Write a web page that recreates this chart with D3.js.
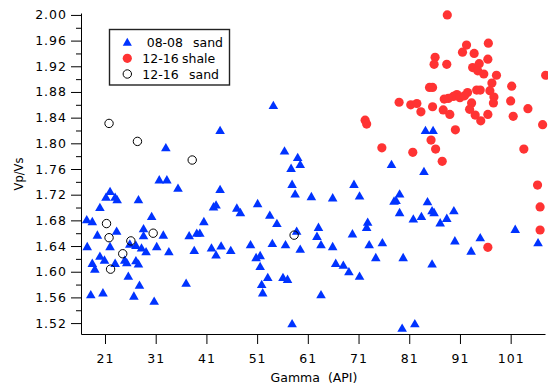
<!DOCTYPE html>
<html>
<head>
<meta charset="utf-8">
<script src="https://cdn.jsdelivr.net/npm/d3@7"></script>
<style>
  body { margin: 0; background: #fff; }
  svg { display: block; font-family: "DejaVu Sans", sans-serif; }
</style>
</head>
<body>
<svg id="chart" width="548" height="387"></svg>
<script>
// [Gamma (API), Vp/Vs] pairs for each sample group
const sand0808 = [
  [17.4,1.682],[18.5,1.679],[19.5,1.658],[17.5,1.640],[20.0,1.701],[21.2,1.717],[22.0,1.726],[23.0,1.717],[23.4,1.713],[27.6,1.713],
  [23.3,1.664],[22.0,1.640],[20.0,1.625],[20.9,1.619],[18.5,1.614],[19.0,1.605],[23.0,1.614],[24.9,1.619],[25.3,1.615],[27.1,1.618],
  [27.6,1.613],[25.6,1.594],[27.8,1.580],[26.7,1.563],[18.2,1.565],[20.6,1.568],[30.7,1.555],[25.9,1.644],[27.1,1.642],[28.2,1.638],
  [29.1,1.632],[28.6,1.668],[28.6,1.657],[30.2,1.687],[31.2,1.640],[32.5,1.658],[33.6,1.632],[33.0,1.794],[31.7,1.744],[33.2,1.744],
  [35.4,1.731],[37.0,1.583],[37.6,1.657],[38.6,1.634],[39.1,1.661],[39.7,1.661],[40.5,1.679],[42.0,1.638],[42.9,1.627],[43.9,1.641],
  [45.8,1.634],[42.4,1.702],[42.9,1.705],[43.7,1.729],[43.7,1.821],[47.0,1.700],[54.2,1.860],[56.4,1.789],[59.0,1.779],[59.5,1.768],
  [57.7,1.762],[57.9,1.737],[58.5,1.722],[61.7,1.718],[65.9,1.716],[70.1,1.737],[71.2,1.719],[77.5,1.768],[79.1,1.722],[78.0,1.711],
  [79.1,1.693],[47.7,1.693],[51.1,1.707],[53.5,1.689],[54.9,1.676],[58.8,1.664],[63.1,1.670],[62.8,1.656],[63.6,1.643],[65.9,1.640],
  [69.8,1.660],[72.8,1.678],[72.6,1.670],[73.1,1.643],[75.7,1.646],[74.4,1.623],[79.8,1.623],[49.7,1.643],[54.0,1.645],[56.6,1.643],
  [59.5,1.636],[50.8,1.623],[51.6,1.626],[51.6,1.609],[53.1,1.592],[51.9,1.581],[52.1,1.568],[56.1,1.592],[57.0,1.589],[66.5,1.614],
  [68.0,1.611],[69.1,1.601],[71.2,1.594],[63.6,1.565],[57.9,1.520],[79.6,1.513],[82.1,1.520],[78.4,1.712],[84.6,1.710],[85.5,1.696],
  [85.9,1.693],[89.8,1.696],[88.4,1.684],[87.1,1.677],[83.4,1.687],[81.8,1.683],[85.5,1.613],[90.0,1.649],[93.2,1.633],[95.0,1.654],
  [101.9,1.667],[106.4,1.646],[84.2,1.821],[85.7,1.821],[83.9,1.757]
];
const shale1216 = [
  [88.5,2.000],[92.3,1.953],[91.5,1.942],[96.6,1.956],[93.8,1.940],[96.5,1.931],[86.1,1.934],[85.9,1.923],[88.4,1.923],[93.5,1.918],
  [94.8,1.924],[94.5,1.913],[95.7,1.908],[98.2,1.906],[107.9,1.906],[97.3,1.894],[101.2,1.889],[85.0,1.887],[85.6,1.887],[96.9,1.882],
  [94.3,1.883],[95.0,1.883],[92.5,1.879],[90.4,1.876],[89.7,1.873],[91.0,1.871],[88.7,1.870],[87.9,1.869],[97.7,1.872],[97.6,1.863],
  [101.0,1.866],[93.3,1.863],[92.9,1.853],[79.0,1.864],[81.3,1.860],[82.5,1.862],[83.3,1.849],[85.6,1.857],[87.7,1.852],[89.0,1.845],
  [94.0,1.844],[95.1,1.835],[96.5,1.845],[101.5,1.842],[104.4,1.854],[107.3,1.829],[72.3,1.836],[72.6,1.830],[90.1,1.821],[85.3,1.805],
  [86.2,1.791],[87.5,1.772],[75.6,1.793],[81.7,1.786],[103.6,1.791],[106.3,1.735],[106.8,1.701],[106.8,1.665],[96.5,1.638],[91.9,1.874]
];
const sand1216 = [
  [21.8,1.831],[27.4,1.803],[38.2,1.774],[21.3,1.675],[21.8,1.653],[22.1,1.604],[24.5,1.628],[26.1,1.648],[30.5,1.660],[58.3,1.657]
];

const xTicks = [21, 31, 41, 51, 61, 71, 81, 91, 101];
const yTicks = [1.52, 1.56, 1.60, 1.64, 1.68, 1.72, 1.76, 1.80, 1.84, 1.88, 1.92, 1.96, 2.00];
const yMinorTicks = [1.54, 1.58, 1.62, 1.66, 1.70, 1.74, 1.78, 1.82, 1.86, 1.90, 1.94, 1.98];
const legendItems = [
  { name: "08-08", kind: "sand" },
  { name: "12-16", kind: "shale" },
  { name: "12-16", kind: "sand" }
];

const svg = d3.select("#chart");
const plot = { left: 81, right: 545, top: 13, bottom: 334 };

const x = d3.scaleLinear().domain([16.27, 107.77]).range([plot.left, plot.right]);
const y = d3.scaleLinear().domain([1.503, 2.003]).range([plot.bottom, plot.top]);

// Upward triangle centred on its bounding box
const triangle = {
  draw(ctx, size) {
    const w = Math.sqrt(size) * 0.76, h = Math.sqrt(size) * 0.66;
    ctx.moveTo(0, -h);
    ctx.lineTo(w, h);
    ctx.lineTo(-w, h);
    ctx.closePath();
  }
};

const blue = "#0033ff", red = "#ff3333";

// Axes
const gx = svg.append("g")
  .attr("transform", `translate(0,${plot.bottom})`)
  .call(d3.axisBottom(x).tickValues(xTicks).tickSize(10).tickSizeOuter(0).tickFormat(d3.format("d")));
gx.attr("font-family", "DejaVu Sans").attr("font-size", 12.5);
gx.selectAll(".tick text").attr("y", 28.7).attr("dy", null).attr("fill", "#000")
  .style("letter-spacing", "1px");
gx.selectAll("line, path").attr("stroke", "#000");

const gy = svg.append("g")
  .attr("transform", `translate(${plot.left},0)`)
  .call(d3.axisLeft(y).tickValues(yTicks).tickSize(10).tickSizeOuter(0).tickPadding(4).tickFormat(d3.format(".2f")));
gy.attr("font-family", "DejaVu Sans").attr("font-size", 12.5);
gy.selectAll(".tick text").attr("fill", "#000").style("letter-spacing", "1px");
gy.selectAll("line, path").attr("stroke", "#000");

const gyMinor = svg.append("g")
  .attr("transform", `translate(${plot.left},0)`)
  .call(d3.axisLeft(y).tickValues(yMinorTicks).tickSize(5).tickFormat(""));
gyMinor.select(".domain").remove();
gyMinor.selectAll("line").attr("stroke", "#000");

// Axis titles
svg.append("text")
  .attr("x", 314).attr("y", 382)
  .attr("text-anchor", "middle")
  .attr("font-size", 12.5)
  .attr("xml:space", "preserve")
  .style("white-space", "pre")
  .text("Gamma  (API)");

svg.append("text")
  .attr("transform", "translate(23,174) rotate(-90)")
  .attr("text-anchor", "middle")
  .attr("font-size", 11.5)
  .text("Vp/Vs");

// Data markers
svg.append("g").selectAll("path").data(sand0808).join("path")
  .attr("transform", d => `translate(${x(d[0])},${y(d[1])})`)
  .attr("d", d3.symbol(triangle, 40))
  .attr("fill", blue);

svg.append("g").selectAll("circle").data(shale1216).join("circle")
  .attr("cx", d => x(d[0])).attr("cy", d => y(d[1]))
  .attr("r", 4.6)
  .attr("fill", red);

svg.append("g").selectAll("circle").data(sand1216).join("circle")
  .attr("cx", d => x(d[0])).attr("cy", d => y(d[1]))
  .attr("r", 4.2)
  .attr("fill", "none")
  .attr("stroke", "#000")
  .attr("stroke-width", 1);

// Legend
const legend = svg.append("g");
legend.append("rect")
  .attr("x", 109.5).attr("y", 29.5).attr("width", 120).attr("height", 55.5)
  .attr("fill", "#fff").attr("stroke", "#222").attr("stroke-width", 1.4);

const rowY = [41.7, 58.3, 74];
const nameX = [146.7, 142.3, 142.3];
const kindX = [193, 182, 189];

legend.append("path")
  .attr("transform", `translate(127.3,${rowY[0]})`)
  .attr("d", d3.symbol(triangle, 36))
  .attr("fill", blue);
legend.append("circle")
  .attr("cx", 127.3).attr("cy", rowY[1]).attr("r", 4.6).attr("fill", red);
legend.append("circle")
  .attr("cx", 127.3).attr("cy", rowY[2]).attr("r", 4.2)
  .attr("fill", "none").attr("stroke", "#000");

legendItems.forEach((item, i) => {
  legend.append("text")
    .attr("x", nameX[i]).attr("y", rowY[i] + 5)
    .attr("font-size", 12.5)
    .text(item.name);
  legend.append("text")
    .attr("x", kindX[i]).attr("y", rowY[i] + 5)
    .attr("font-size", 12.5)
    .text(item.kind);
});
</script>
</body>
</html>
